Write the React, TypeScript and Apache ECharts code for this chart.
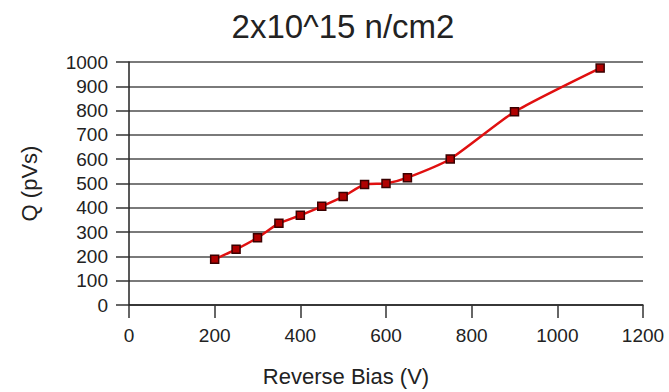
import React, { useEffect, useRef } from "react";
import * as echarts from "echarts";

const titleText = "2x10^15 n/cm2";
const xAxisName = "Reverse Bias (V)";
const yAxisName = "Q (pVs)";
const biasVolts = [200, 250, 300, 350, 400, 450, 500, 550, 600, 650, 750, 900, 1100];
const chargeQ = [188, 229, 277, 336, 369, 406, 446, 496, 500, 524, 601, 795, 975];

const FONT = "'Liberation Sans', Arial, sans-serif";

export default function App() {
  const ref = useRef<HTMLDivElement>(null);
  useEffect(() => {
    if (!ref.current) return;
    const chart = echarts.init(ref.current, undefined, { renderer: "svg" });
    chart.setOption({
      animation: false,
      backgroundColor: "#ffffff",
      title: {
        text: titleText,
        left: 338,
        top: 5,
        textAlign: "center",
        textStyle: { fontFamily: FONT, fontSize: 33, fontWeight: "normal", color: "#222" },
      },
      grid: { left: 129, right: 26, top: 62, bottom: 85 },
      xAxis: {
        type: "value",
        min: 0,
        max: 1200,
        interval: 200,
        name: xAxisName,
        nameLocation: "middle",
        nameGap: 60,
        nameTextStyle: { fontFamily: FONT, fontSize: 22, color: "#222", padding: [0, 80, 0, 0] },
        axisLine: { show: true, lineStyle: { color: "#222", width: 1.5 } },
        axisTick: { show: true, inside: false, length: 13, lineStyle: { color: "#333", width: 1.5 } },
        axisLabel: {
          margin: 21,
          fontFamily: FONT,
          fontSize: 19,
          color: "#222",
          formatter: (v: number) => String(v),
        },
        splitLine: { show: false },
      },
      yAxis: {
        type: "value",
        min: 0,
        max: 1000,
        interval: 100,
        name: yAxisName,
        nameLocation: "middle",
        nameGap: 89,
        nameRotate: 90,
        nameTextStyle: { fontFamily: FONT, fontSize: 22, color: "#222" },
        axisLine: { show: true, lineStyle: { color: "#222", width: 1.5 } },
        axisTick: { show: true, inside: false, length: 13, lineStyle: { color: "#333", width: 1.5 } },
        axisLabel: {
          margin: 21,
          fontFamily: FONT,
          fontSize: 19,
          color: "#222",
          formatter: (v: number) => String(v),
        },
        splitLine: { show: true, lineStyle: { color: "#7a7a7a", width: 2 } },
      },
      series: [
        {
          type: "line",
          data: biasVolts.map((v, i) => [v, chargeQ[i]]),
          smooth: 0.2,
          symbol: "rect",
          symbolSize: 8,
          lineStyle: { color: "#e01010", width: 2.5 },
          itemStyle: { color: "#b00000", borderColor: "#3a0000", borderWidth: 1.5 },
          z: 5,
        },
      ],
    });
    return () => chart.dispose();
  }, []);
  return (
    <div
      ref={ref}
      style={{ position: "absolute", left: 0, top: 0, width: 669, height: 392 }}
    />
  );
}
